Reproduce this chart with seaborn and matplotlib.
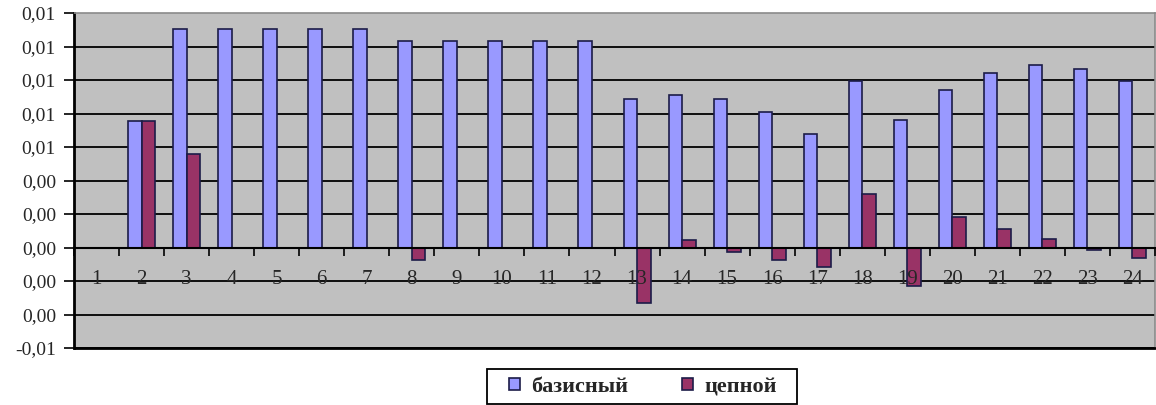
import matplotlib
matplotlib.use("Agg")
import matplotlib.pyplot as plt
import seaborn as sns
import numpy as np
import pandas as pd
from matplotlib.ticker import FuncFormatter, FixedLocator
from matplotlib.patches import Rectangle

categories = [str(i) for i in range(1, 25)]
basic = [0.0, 0.00754, 0.01306, 0.01306, 0.01306, 0.01306, 0.01306, 0.01232,
         0.01232, 0.01232, 0.01232, 0.01232, 0.00884, 0.00909, 0.00884, 0.00808,
         0.00680, 0.00997, 0.00764, 0.00939, 0.01040, 0.01087, 0.01067, 0.00997]
chain = [0.0, 0.00754, 0.00561, 0.0, 0.0, 0.0, 0.0, -0.00072,
         0.0, 0.0, 0.0, 0.0, -0.00334, 0.00042, -0.00026, -0.00072,
         -0.00118, 0.00322, -0.00227, 0.00183, 0.00113, 0.00050, -0.00016, -0.00062]
series_names = ["базисный", "цепной"]
y_ticks = [-0.006, -0.004, -0.002, 0.0, 0.002, 0.004, 0.006, 0.008, 0.010, 0.012, 0.014]
colors = ["#9999FF", "#993366"]
edge = "#1c1c48"

df = pd.DataFrame({
    "cat": categories * 2,
    "value": basic + chain,
    "series": [series_names[0]] * len(categories) + [series_names[1]] * len(categories),
})

sns.set_style("white")
plt.rcParams["font.family"] = ["Liberation Serif", "DejaVu Serif"]

W, H = 1156, 405
fig = plt.figure(figsize=(W/100, H/100), dpi=100)
ax = fig.add_axes([74/W, 1-348/H, 1081/W, 335/H])
ax.set_facecolor("#C0C0C0")

sns.barplot(data=df, x="cat", y="value", hue="series", order=categories,
            hue_order=series_names, palette=colors,
            width=0.6, gap=0, edgecolor=edge, linewidth=1.2,
            saturation=1, legend=False, ax=ax, zorder=2)

ax.set_axisbelow(False)
ax.set_xlim(-0.5, 23.5)
ax.set_ylim(-0.006, 0.014)
ax.set_yticks(y_ticks)

def fmt(v, pos):
    r = round(v, 2)
    if abs(r) < 1e-12:
        r = 0.0
    return f"{r:.2f}".replace(".", ",")

ax.yaxis.set_major_formatter(FuncFormatter(fmt))
for t in y_ticks[:-1]:
    ax.axhline(t, color="black", linewidth=1.3, zorder=1)
ax.tick_params(axis="y", direction="out", length=7, width=1.2, color="black",
               labelsize=14, pad=6, left=True)

# x axis at zero
ax.spines["bottom"].set_position(("data", 0))
ax.spines["bottom"].set_color("black")
ax.spines["bottom"].set_linewidth(1.5)
ax.spines["left"].set_color("black")
ax.spines["left"].set_linewidth(2)
for s in ("top", "right"):
    ax.spines[s].set_color("#8a8a8a")
    ax.spines[s].set_linewidth(1.2)
    ax.spines[s].set_visible(True)

ax.xaxis.set_major_locator(FixedLocator(np.arange(-0.5, 24, 1.0)))
ax.xaxis.set_minor_locator(FixedLocator(np.arange(0, 24, 1.0)))
ax.set_xticklabels([], minor=False)
ax.set_xticklabels(categories, minor=True)
ax.tick_params(axis="x", which="major", direction="out", length=6, width=1.2,
               color="black", bottom=True)
ax.tick_params(axis="x", which="minor", length=0, labelsize=15, pad=16, bottom=True)

ax.set_xlabel("")
ax.set_ylabel("")

# bottom border line
ax.axhline(-0.006, color="black", linewidth=2, zorder=4, clip_on=False)

# legend
handles = [Rectangle((0, 0), 1, 1, facecolor=c, edgecolor=edge, linewidth=1.2)
           for c in colors]
fig.legend(handles, series_names, loc="center", bbox_to_anchor=(643/W, 1-387/H),
           ncol=2, frameon=False,
           prop={"size": 16, "weight": "bold"}, handlelength=0.5, handleheight=0.5,
           columnspacing=2.4, handletextpad=0.5, borderpad=0.3)
fig.patches.append(Rectangle((487/W, 1-404/H), 310/W, 35/H, transform=fig.transFigure,
                             facecolor="none", edgecolor="black", linewidth=1.3))

fig.savefig("out.png", dpi=100, facecolor="white")
